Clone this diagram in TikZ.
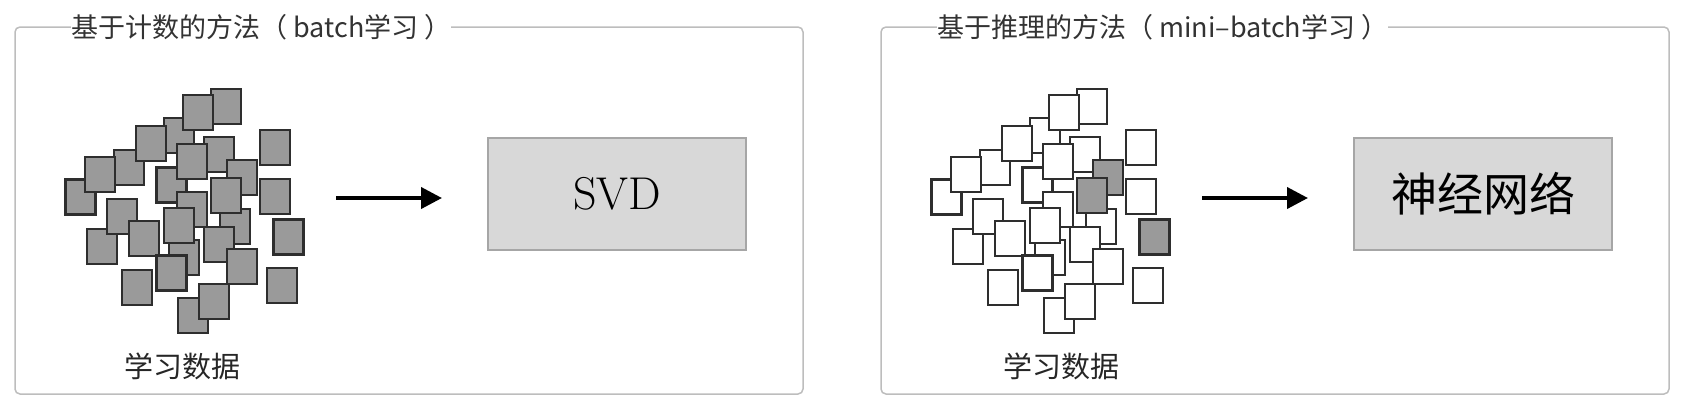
\documentclass[tikz,border=0pt]{standalone}
\usepackage{fontspec}
\newfontfamily\cjk{Noto Sans CJK SC}
\usetikzlibrary{arrows.meta}
\definecolor{framec}{HTML}{BDBDBD}
\definecolor{titlec}{HTML}{333333}
\definecolor{sqgray}{HTML}{9A9A9A}
\definecolor{sqedge}{HTML}{2E2E2E}
\definecolor{boxfill}{HTML}{D8D8D8}
\definecolor{boxedge}{HTML}{A6A6A6}
\begin{document}
\begin{tikzpicture}[x=0.5pt,y=-0.5pt,
 frame/.style={draw=framec,line width=0.75pt,rounded corners=2.5pt},
 title/.style={fill=white,inner xsep=0pt,inner ysep=1pt,anchor=west,text=titlec,font=\cjk\fontsize{13.5pt}{13.5pt}\selectfont},
 method/.style={draw=boxedge,fill=boxfill,line width=0.75pt,minimum width=129pt,minimum height=56pt,inner sep=0pt},
 datalabel/.style={font=\cjk\fontsize{14.5pt}{14.5pt}\selectfont,text=black!85},
 flow/.style={-{Triangle[length=10.5pt,width=10.5pt]},line width=2pt},
 sq/.style 2 args={draw=sqedge,line width=#1,fill=#2},
]
\useasboundingbox (0,0) rectangle (1688,414);
% frames
\draw[frame] (15,27) rectangle (803,394);
\draw[frame] (881,27) rectangle (1669,394);
\node[title] (lt) at (71,27) {基于计数的方法（\kern3pt batch学习\kern3pt）};
\node[title] (rt) at (937,27) {基于推理的方法（\kern3pt mini–batch学习\kern3pt）};
% clusters
\def\sqlist{210/88/1/white, 163/117/1/white, 182/94/1/white, 113/149/1/white,
 135/125/1/white, 64/178/1.5/white, 84/156/1/white, 203/136/1/white,
 155/166/1.5/white, 176/143/1/white, 226/159/1/sqgray, 219/208/1/white,
 210/177/1/sqgray, 176/191/1/white, 168/239/1/white, 163/207/1/white,
 86/228/1/white, 106/198/1/white, 128/220/1/white, 203/226/1/white,
 155/254/1.5/white, 226/248/1/white, 177/297/1/white, 198/283/1/white,
 259/129/1/white, 259/178/1/white, 272/218/1.5/sqgray, 121/269/1/white,
 266/267/1/white}
\foreach \x/\y/\w/\f in \sqlist {
  \draw[sq={\w pt}{sqgray}] (\x+1,\y+1) rectangle ++(30,35);
}
\begin{scope}[shift={(866,0)}]
\foreach \x/\y/\w/\f in \sqlist {
  \draw[sq={\w pt}{\f}] (\x+1,\y+1) rectangle ++(30,35);
}
\end{scope}
\node[datalabel] (ld) at (182,366) {学习数据};
\node[datalabel] (rd) at (1061,366) {学习数据};
% method boxes
\node[method,font=\fontsize{23pt}{23pt}\selectfont] (svd) at (617,194) {SVD};
\node[method,font=\cjk\fontsize{23pt}{23pt}\selectfont] (nn) at (1483,194) {神经网络};
% arrows
\coordinate (la) at (336,198);
\coordinate (lb) at (442,198);
\coordinate (ra) at (1202,198);
\coordinate (rb) at (1308,198);
\draw[flow] (la) -- (lb);
\draw[flow] (ra) -- (rb);
\end{tikzpicture}
\end{document}
